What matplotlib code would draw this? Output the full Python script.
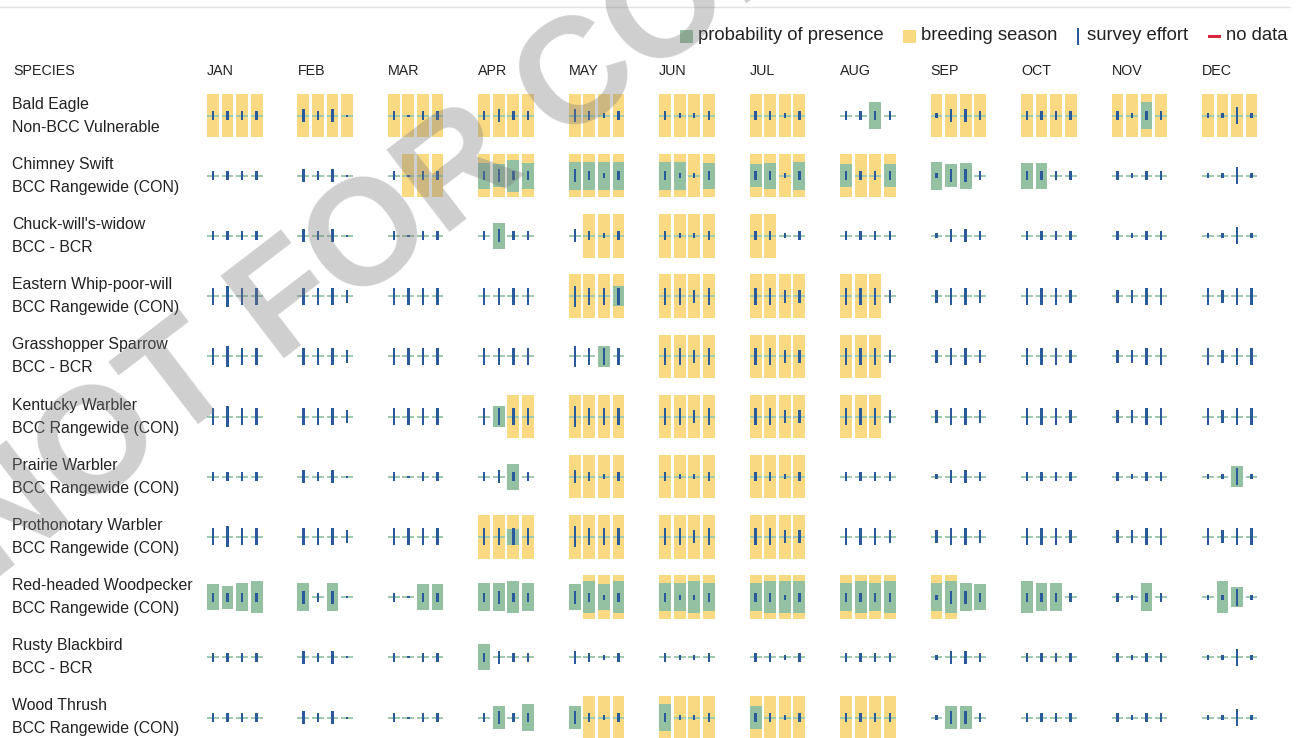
import matplotlib
matplotlib.use("Agg")
import matplotlib.pyplot as plt
from matplotlib.patches import Rectangle

plt.rcParams["font.family"] = ["Liberation Sans", "DejaVu Sans"]

species = ["Bald Eagle", "Chimney Swift", "Chuck-will's-widow", "Eastern Whip-poor-will",
           "Grasshopper Sparrow", "Kentucky Warbler", "Prairie Warbler", "Prothonotary Warbler",
           "Red-headed Woodpecker", "Rusty Blackbird", "Wood Thrush"]
status = ["Non-BCC Vulnerable", "BCC Rangewide (CON)", "BCC - BCR", "BCC Rangewide (CON)",
          "BCC - BCR", "BCC Rangewide (CON)", "BCC Rangewide (CON)", "BCC Rangewide (CON)",
          "BCC Rangewide (CON)", "BCC - BCR", "BCC Rangewide (CON)"]
months = ["JAN", "FEB", "MAR", "APR", "MAY", "JUN", "JUL", "AUG", "SEP", "OCT", "NOV", "DEC"]

# breeding season, one flag per week (4 weeks per month)
breeding = [
    "1111 1111 1111 1111 1111 1111 1111 0000 1111 1111 1111 1111",
    "0000 0000 0111 1111 1111 1111 1111 1111 0000 0000 0000 0000",
    "0000 0000 0000 0000 0111 1111 1100 0000 0000 0000 0000 0000",
    "0000 0000 0000 0000 1111 1111 1111 1110 0000 0000 0000 0000",
    "0000 0000 0000 0000 0000 1111 1111 1110 0000 0000 0000 0000",
    "0000 0000 0000 0011 1111 1111 1111 1110 0000 0000 0000 0000",
    "0000 0000 0000 0000 1111 1111 1111 0000 0000 0000 0000 0000",
    "0000 0000 0000 1111 1111 1111 1111 0000 0000 0000 0000 0000",
    "0000 0000 0000 0000 0111 1111 1111 1111 1100 0000 0000 0000",
    "0000 0000 0000 0000 0000 0000 0000 0000 0000 0000 0000 0000",
    "0000 0000 0000 0000 0111 1111 1111 1111 0000 0000 0000 0000",
]

# survey effort class per week; two survey blocks cover the whole list
effort_a = "3333 4341 3133 3433 4323 3223 3323 3333 2443 3333 3233 2252"
effort_b = "5655 5554 5555 5555 6555 5545 5544 5554 4554 5554 4455 5455"
effort = [effort_a, effort_a, effort_a, effort_b, effort_b, effort_b,
          effort_a, effort_b, effort_a, effort_a, effort_a]

# probability of presence per week (share of the cell height)
presence = [
    [0, 0, 0, 0,  0, 0, 0, 0,  0, 0, 0, 0,  0, 0, 0, 0,  0, 0, 0, 0,  0, 0, 0, 0,
     0, 0, 0, 0,  0, 0, 0.60, 0,  0, 0, 0, 0,  0, 0, 0, 0,  0, 0, 0.60, 0,  0, 0, 0, 0],
    [0, 0, 0, 0,  0, 0, 0, 0,  0, 0, 0, 0,  0.59, 0.54, 0.74, 0.59,  0.65, 0.65, 0.65, 0.65,  0.65, 0.65, 0, 0.59,
     0.54, 0.59, 0, 0.65,  0.54, 0, 0, 0.54,  0.65, 0.54, 0.59, 0,  0.60, 0.60, 0, 0,  0, 0, 0, 0,  0, 0, 0, 0],
    [0, 0, 0, 0,  0, 0, 0, 0,  0, 0, 0, 0,  0, 0.60, 0, 0,  0, 0, 0, 0,  0, 0, 0, 0,
     0, 0, 0, 0,  0, 0, 0, 0,  0, 0, 0, 0,  0, 0, 0, 0,  0, 0, 0, 0,  0, 0, 0, 0],
    [0, 0, 0, 0,  0, 0, 0, 0,  0, 0, 0, 0,  0, 0, 0, 0,  0, 0, 0, 0.47,  0, 0, 0, 0,
     0, 0, 0, 0,  0, 0, 0, 0,  0, 0, 0, 0,  0, 0, 0, 0,  0, 0, 0, 0,  0, 0, 0, 0],
    [0, 0, 0, 0,  0, 0, 0, 0,  0, 0, 0, 0,  0, 0, 0, 0,  0, 0, 0.49, 0,  0, 0, 0, 0,
     0, 0, 0, 0,  0, 0, 0, 0,  0, 0, 0, 0,  0, 0, 0, 0,  0, 0, 0, 0,  0, 0, 0, 0],
    [0, 0, 0, 0,  0, 0, 0, 0,  0, 0, 0, 0,  0, 0.46, 0, 0,  0, 0, 0, 0,  0, 0, 0, 0,
     0, 0, 0, 0,  0, 0, 0, 0,  0, 0, 0, 0,  0, 0, 0, 0,  0, 0, 0, 0,  0, 0, 0, 0],
    [0, 0, 0, 0,  0, 0, 0, 0,  0, 0, 0, 0,  0, 0, 0.59, 0,  0, 0, 0, 0,  0, 0, 0, 0,
     0, 0, 0, 0,  0, 0, 0, 0,  0, 0, 0, 0,  0, 0, 0, 0,  0, 0, 0, 0,  0, 0, 0.47, 0],
    [0, 0, 0, 0,  0, 0, 0, 0,  0, 0, 0, 0,  0, 0, 0.35, 0,  0, 0, 0, 0,  0, 0, 0, 0,
     0, 0, 0, 0,  0, 0, 0, 0,  0, 0, 0, 0,  0, 0, 0, 0,  0, 0, 0, 0,  0, 0, 0, 0],
    [0.60, 0.53, 0.65, 0.74,  0.65, 0, 0.65, 0,  0, 0, 0.60, 0.60,  0.65, 0.65, 0.74, 0.65,
     0.60, 0.74, 0.60, 0.74,  0.65, 0.65, 0.74, 0.65,  0.65, 0.74, 0.74, 0.74,  0.65, 0.74, 0.65, 0.74,
     0.65, 0.74, 0.65, 0.60,  0.74, 0.65, 0.65, 0,  0, 0, 0.65, 0,  0, 0.74, 0.47, 0],
    [0, 0, 0, 0,  0, 0, 0, 0,  0, 0, 0, 0,  0.60, 0, 0, 0,  0, 0, 0, 0,  0, 0, 0, 0,
     0, 0, 0, 0,  0, 0, 0, 0,  0, 0, 0, 0,  0, 0, 0, 0,  0, 0, 0, 0,  0, 0, 0, 0],
    [0, 0, 0, 0,  0, 0, 0, 0,  0, 0, 0, 0,  0, 0.53, 0, 0.60,  0.53, 0, 0, 0,  0.60, 0, 0, 0,
     0.53, 0, 0, 0,  0, 0, 0, 0,  0, 0.53, 0.53, 0,  0, 0, 0, 0,  0, 0, 0, 0,  0, 0, 0, 0],
]

# half height (px) of the survey effort tick for each effort class
effort_half_px = {1: 1.0, 2: 2.5, 3: 4.5, 4: 6.5, 5: 8.5, 6: 10.5}

GREEN = "#95c1a3"
YELLOW = "#f9d982"
BLUE = "#2b5a9b"
BASE = "#9fcab0"
RED = "#d7263d"
TEXT = "#222222"

W, H = 1297, 738
ROW0, ROW_STEP = 115.5, 60.2      # px, centre of first row and row pitch
COL0, MONTH_STEP = 207.0, 90.45   # px, left of JAN block and month pitch


def fx(px):
    return px / W


def fy(py):
    return 1 - py / H


fig = plt.figure(figsize=(W / 100, H / 100), dpi=100)
top = ROW0 - ROW_STEP / 2
ax = fig.add_axes([fx(COL0), 0, 12 * MONTH_STEP / W, (H - top) / H])
ax.set_xlim(0, 12)
ax.set_ylim((H - ROW0) / ROW_STEP, -0.5)
ax.axis("off")

cell_w = 11.8 / MONTH_STEP
week_step = 14.57 / MONTH_STEP
cell_h = 43.5 / ROW_STEP
base_h = 2.0 / ROW_STEP
tick_w = 2.4 / MONTH_STEP

for r in range(len(species)):
    flags = breeding[r].replace(" ", "")
    eff = effort[r].replace(" ", "")
    for k in range(48):
        x0 = k // 4 + (k % 4) * week_step
        if flags[k] == "1":
            ax.add_patch(Rectangle((x0, r - cell_h / 2), cell_w, cell_h, color=YELLOW, lw=0, zorder=1))
        ax.add_patch(Rectangle((x0, r - base_h / 2), cell_w, base_h, color=BASE, lw=0, zorder=2))
        p = presence[r][k]
        if p > 0:
            ph = p * cell_h
            ax.add_patch(Rectangle((x0, r - ph / 2), cell_w, ph, color=GREEN, lw=0, zorder=3))
        eh = 2 * effort_half_px[int(eff[k])] / ROW_STEP
        ax.add_patch(Rectangle((x0 + cell_w / 2 - tick_w / 2, r - eh / 2), tick_w, eh,
                               color=BLUE, lw=0, zorder=4))

# row labels
for r, (name, cat) in enumerate(zip(species, status)):
    yc = ROW0 + r * ROW_STEP
    fig.text(fx(12), fy(yc - 11.5), name, fontsize=11.4, color=TEXT, va="center")
    fig.text(fx(12), fy(yc + 11.5), cat, fontsize=11.4, color=TEXT, va="center")

# header
fig.text(fx(13), fy(71), "SPECIES", fontsize=10.3, color=TEXT, va="center")
for m, name in enumerate(months):
    fig.text(fx(COL0 + m * MONTH_STEP), fy(71), name, fontsize=10.3, color=TEXT, va="center")

# legend
fig.patches.append(Rectangle((fx(680), fy(43)), 13 / W, 13 / H, transform=fig.transFigure,
                             color=GREEN, lw=0))
fig.text(fx(698), fy(36), "probability of presence", fontsize=13.3, color=TEXT, va="center")
fig.patches.append(Rectangle((fx(903), fy(43)), 13 / W, 13 / H, transform=fig.transFigure,
                             color=YELLOW, lw=0))
fig.text(fx(921), fy(36), "breeding season", fontsize=13.3, color=TEXT, va="center")
fig.patches.append(Rectangle((fx(1077), fy(45)), 2.2 / W, 17 / H, transform=fig.transFigure,
                             color=BLUE, lw=0))
fig.text(fx(1087), fy(36), "survey effort", fontsize=13.3, color=TEXT, va="center")
fig.patches.append(Rectangle((fx(1208), fy(37.5)), 13 / W, 2.5 / H, transform=fig.transFigure,
                             color=RED, lw=0))
fig.text(fx(1226), fy(36), "no data", fontsize=13.3, color=TEXT, va="center")

# top rule
fig.add_artist(plt.Line2D([0, fx(1290)], [fy(7), fy(7)], transform=fig.transFigure,
                          color="#e3e3e3", lw=1))

# watermark
fig.text(fx(-8), fy(582), "NOT FOR CONSULTATION", fontsize=108, fontweight="bold",
         color="#7a7a7a", alpha=0.36, rotation=37.5, rotation_mode="anchor",
         ha="left", va="baseline", zorder=20)

fig.savefig("out.png", dpi=100)
